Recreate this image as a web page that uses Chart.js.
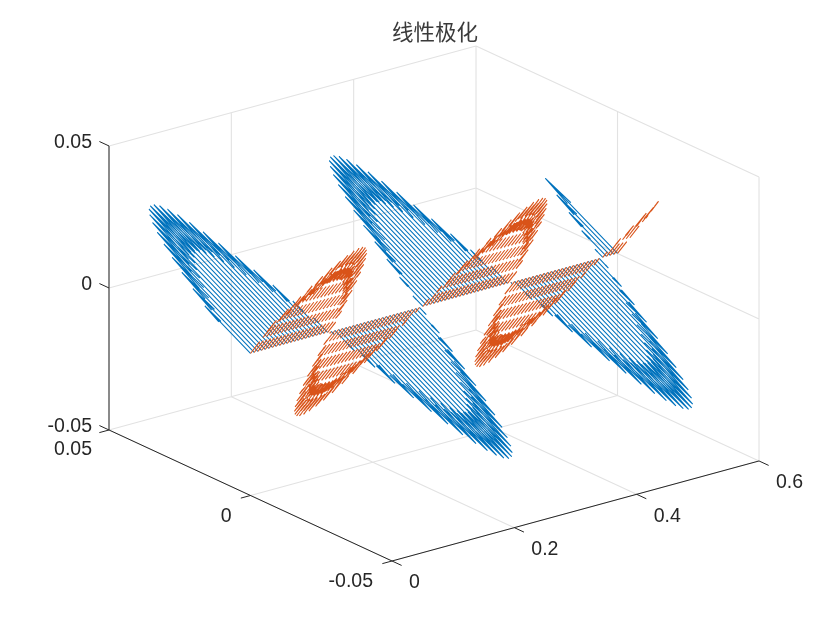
<!DOCTYPE html>
<html>
<head>
<meta charset="utf-8">
<script src="https://cdn.jsdelivr.net/npm/chart.js@4"></script>
<style>
  body { margin: 0; background: #fff; }
  canvas { display: block; }
</style>
</head>
<body>
<canvas id="chart" width="840" height="630"></canvas>
<script>
const titleText = "线性极化";

const xTicks = [0, 0.2, 0.4, 0.6];
const yTicks = [-0.05, 0, 0.05];
const zTicks = [-0.05, 0, 0.05];
const xTickLabels = ["0", "0.2", "0.4", "0.6"];
const yTickLabels = ["-0.05", "0", "0.05"];
const zTickLabels = ["-0.05", "0", "0.05"];

// arrow bases along the x axis
const xPositions = [
  0, 0.006, 0.012, 0.018, 0.024, 0.03, 0.036, 0.042, 0.048, 0.054,
  0.06, 0.066, 0.072, 0.078, 0.084, 0.09, 0.096, 0.102, 0.108, 0.114,
  0.12, 0.126, 0.132, 0.138, 0.144, 0.15, 0.156, 0.162, 0.168, 0.174,
  0.18, 0.186, 0.192, 0.198, 0.204, 0.21, 0.216, 0.222, 0.228, 0.234,
  0.24, 0.246, 0.252, 0.258, 0.264, 0.27, 0.276, 0.282, 0.288, 0.294,
  0.3, 0.306, 0.312, 0.318, 0.324, 0.33, 0.336, 0.342, 0.348, 0.354,
  0.36, 0.366, 0.372, 0.378, 0.384, 0.39, 0.396, 0.402, 0.408, 0.414,
  0.42, 0.426, 0.432, 0.438, 0.444, 0.45, 0.456, 0.462, 0.468, 0.474,
  0.48, 0.486, 0.492, 0.498, 0.504, 0.51, 0.516, 0.522, 0.528, 0.534,
  0.54, 0.546, 0.552, 0.558, 0.564, 0.57, 0.576, 0.582, 0.588, 0.594, 0.6
];

// arrow lengths as a share of the peak length
const blueLengths = [
  0.342, 0.459, 0.569, 0.669, 0.758, 0.835, 0.898, 0.947, 0.98, 0.997,
  0.998, 0.983, 0.951, 0.904, 0.842, 0.767, 0.679, 0.58, 0.471, 0.355,
  0.233, 0.107, -0.021, -0.148, -0.273, -0.394, -0.507, -0.613, -0.709, -0.793,
  -0.864, -0.922, -0.963, -0.99, -1, -0.994, -0.971, -0.933, -0.879, -0.812,
  -0.731, -0.637, -0.534, -0.422, -0.303, -0.178, -0.052, 0.076, 0.203, 0.326,
  0.444, 0.555, 0.656, 0.747, 0.826, 0.891, 0.942, 0.977, 0.996, 0.999,
  0.986, 0.957, 0.911, 0.852, 0.778, 0.692, 0.593, 0.486, 0.371, 0.249,
  0.124, -0.004, -0.131, -0.257, -0.378, -0.493, -0.6, -0.697, -0.783, -0.856,
  -0.915, -0.959, -0.987, -0.999, -0.995, -0.975, -0.939, -0.887, -0.821, -0.742,
  -0.65, -0.548, -0.437, -0.319, -0.195, -0.069, 0.059, 0.186, 0.309, 0.428, 0.54
];
const orangeLengths = [
  0.342, 0.459, 0.569, 0.669, 0.758, 0.835, 0.898, 0.947, 0.98, 0.997,
  0.998, 0.983, 0.951, 0.904, 0.842, 0.767, 0.679, 0.58, 0.471, 0.355,
  0.233, 0.107, -0.021, -0.148, -0.273, -0.394, -0.507, -0.613, -0.709, -0.793,
  -0.864, -0.922, -0.963, -0.99, -1, -0.994, -0.971, -0.933, -0.879, -0.812,
  -0.731, -0.637, -0.534, -0.422, -0.303, -0.178, -0.052, 0.076, 0.203, 0.326,
  0.444, 0.555, 0.656, 0.747, 0.826, 0.891, 0.942, 0.977, 0.996, 0.999,
  0.986, 0.957, 0.911, 0.852, 0.778, 0.692, 0.593, 0.486, 0.371, 0.249,
  0.124, -0.004, -0.131, -0.257, -0.378, -0.493, -0.6, -0.697, -0.783, -0.856,
  -0.915, -0.959, -0.987, -0.999, -0.995, -0.975, -0.939, -0.887, -0.821, -0.742,
  -0.65, -0.548, -0.437, -0.319, -0.195, -0.069, 0.059, 0.186, 0.309, 0.428, 0.54
];

// y and z reach of the longest arrow in each series
const bluePeak = [0.0472, 0.0272];
const orangePeak = [-0.0268, 0.04634];

const BLUE = "#0072BD";
const ORANGE = "#D95319";
const GRID = "#e2e2e2";
const AXIS = "#262626";

// 3d box to screen, fixed view of the reference
function project(x, y, z) {
  return {
    x: 250.5 + x * 611.7 - y * 2830,
    y: 353.5 - x * 166.7 - y * 1310 - z * 2840
  };
}

function segment(from, to) {
  return [project(...from), project(...to), { x: null, y: null }];
}

function arrows(lengths, peak) {
  const pts = [];
  lengths.forEach((len, i) => {
    const x = xPositions[i];
    const v = len * peak[0];
    const w = len * peak[1];
    pts.push(...segment([x, 0, 0], [x, v, w]));
    // head barbs, same shape quiver3 uses
    const off = 0.1089 * v;
    pts.push(project(x + off, 0.67 * v, 0.67 * w));
    pts.push(project(x, v, w));
    pts.push(project(x - off, 0.67 * v, 0.67 * w));
    pts.push({ x: null, y: null });
  });
  return pts;
}

function gridLines() {
  const pts = [];
  xTicks.forEach(x => {
    pts.push(...segment([x, 0.05, -0.05], [x, 0.05, 0.05]));
    pts.push(...segment([x, -0.05, -0.05], [x, 0.05, -0.05]));
  });
  yTicks.forEach(y => {
    pts.push(...segment([0.6, y, -0.05], [0.6, y, 0.05]));
    pts.push(...segment([0, y, -0.05], [0.6, y, -0.05]));
  });
  zTicks.forEach(z => {
    pts.push(...segment([0, 0.05, z], [0.6, 0.05, z]));
    pts.push(...segment([0.6, -0.05, z], [0.6, 0.05, z]));
  });
  return pts;
}

function axisLines() {
  const pts = [];
  pts.push(...segment([0, 0.05, -0.05], [0, 0.05, 0.05]));
  pts.push(...segment([0, 0.05, -0.05], [0, -0.05, -0.05]));
  pts.push(...segment([0, -0.05, -0.05], [0.6, -0.05, -0.05]));
  xTicks.forEach(x => pts.push(...segment([x, -0.05, -0.05], [x, -0.0534, -0.05])));
  yTicks.forEach(y => pts.push(...segment([0, y, -0.05], [-0.0158, y, -0.05])));
  zTicks.forEach(z => pts.push(...segment([0, 0.05, z], [0, 0.0534, z])));
  return pts;
}

const tickLabelPlugin = {
  id: "tickLabels",
  afterDraw(chart) {
    const { ctx, scales } = chart;
    const put = (text, anchor, dx, dy, align) => {
      const p = project(...anchor);
      ctx.textAlign = align;
      ctx.fillText(text, scales.x.getPixelForValue(p.x) + dx, scales.y.getPixelForValue(p.y) + dy);
    };
    ctx.save();
    ctx.font = "19.5px 'Liberation Sans', Arial, sans-serif";
    ctx.fillStyle = AXIS;
    ctx.textBaseline = "middle";
    xTicks.forEach((x, i) => put(xTickLabels[i], [x, -0.05, -0.05], 17, 22, "left"));
    yTicks.forEach((y, i) => put(yTickLabels[i], [0, y, -0.05], y > 0 ? -17 : -19, y > 0 ? 20 : 21, "right"));
    zTicks.forEach((z, i) => put(zTickLabels[i], [0, 0.05, z], -17, -3, "right"));
    ctx.restore();
  }
};

function lineSet(label, data, color, width, dash) {
  return {
    label,
    data,
    borderColor: color,
    borderWidth: width,
    borderDash: dash || [],
    showLine: true,
    spanGaps: false,
    pointRadius: 0,
    fill: false,
    tension: 0,
    clip: false
  };
}

new Chart(document.getElementById("chart"), {
  type: "scatter",
  data: {
    datasets: [
      lineSet("orange", arrows(orangeLengths, orangePeak), ORANGE, 1.1, [15, 5]),
      lineSet("blue", arrows(blueLengths, bluePeak), BLUE, 1.05),
      lineSet("axis", axisLines(), AXIS, 1),
      lineSet("grid", gridLines(), GRID, 1.1)
    ]
  },
  options: {
    responsive: false,
    animation: false,
    layout: { padding: { left: 30, right: 0, top: 0, bottom: 0 } },
    scales: {
      x: { type: "linear", display: false, min: 30, max: 840 },
      y: { type: "linear", display: false, min: 44, max: 630, reverse: true }
    },
    plugins: {
      legend: { display: false },
      tooltip: { enabled: false },
      title: {
        display: true,
        text: titleText,
        fullSize: false,
        color: "#3a3a3a",
        padding: { top: 18.8, bottom: 0 },
        font: { family: "'Noto Sans CJK SC'", size: 21.5, weight: "normal", lineHeight: 1.17 }
      }
    }
  },
  plugins: [tickLabelPlugin]
});
</script>
</body>
</html>
